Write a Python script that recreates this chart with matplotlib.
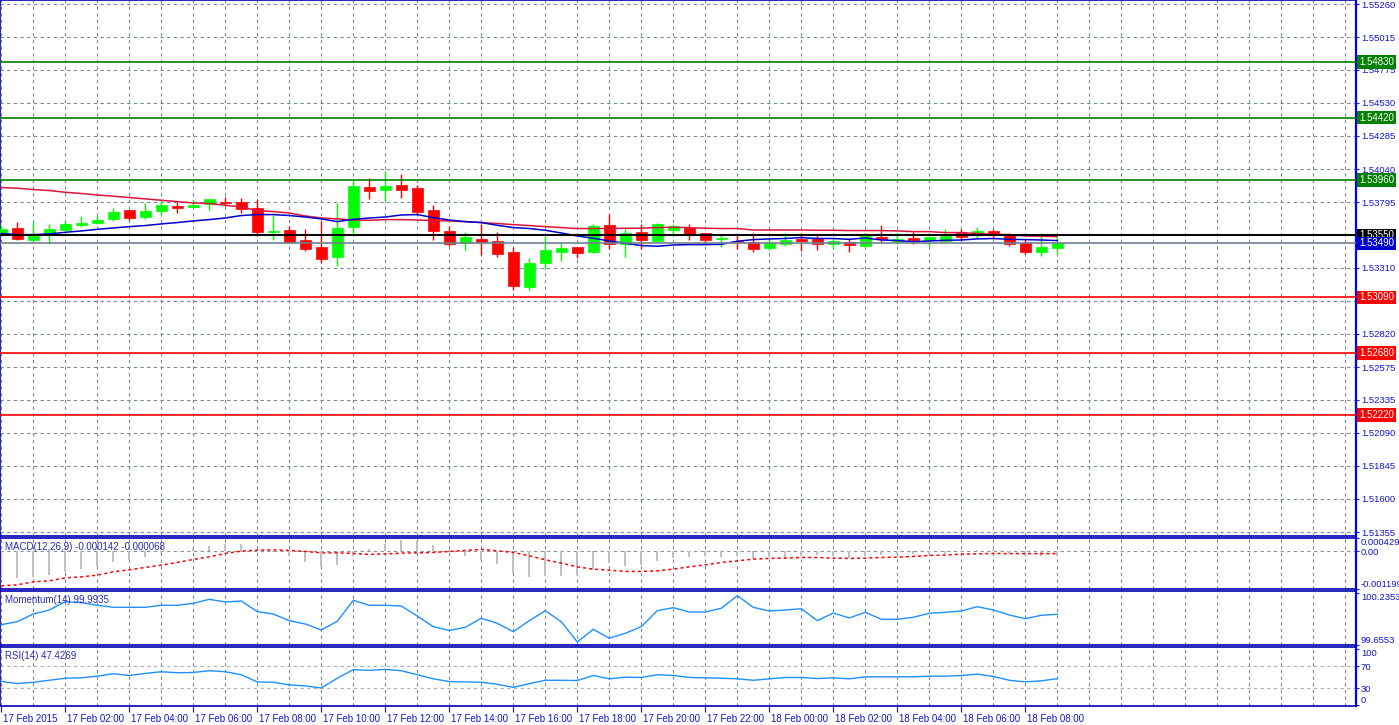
import numpy as np
import matplotlib.pyplot as plt
from matplotlib import transforms

plt.rcParams['font.family'] = ['Liberation Sans', 'DejaVu Sans']

# ---- GBPUSD-like M30 candles, 17 Feb 00:00 .. 18 Feb 09:00 ----
opens = [1.53557, 1.53602, 1.53513, 1.53552, 1.53587, 1.53624, 1.53639, 1.53668, 1.53735, 1.53685,
         1.53728, 1.53765, 1.53759, 1.53779, 1.53799, 1.53794, 1.53750, 1.53574, 1.53587, 1.53513,
         1.53461, 1.53389, 1.53611, 1.53905, 1.53885, 1.53920, 1.53898, 1.53735, 1.53580, 1.53493,
         1.53520, 1.53506, 1.53424, 1.53167, 1.53345, 1.53426, 1.53461, 1.53426, 1.53624, 1.53486,
         1.53572, 1.53511, 1.53589, 1.53607, 1.53565, 1.53523, 1.53511, 1.53500, 1.53454, 1.53486,
         1.53520, 1.53526, 1.53486, 1.53498, 1.53471, 1.53535, 1.53511, 1.53528, 1.53515, 1.53511,
         1.53570, 1.53560, 1.53580, 1.53550, 1.53491, 1.53426, 1.53456]
highs = [1.53624, 1.53646, 1.53646, 1.53631, 1.53656, 1.53691, 1.53691, 1.53750, 1.53739, 1.53787,
         1.53802, 1.53796, 1.53811, 1.53820, 1.53831, 1.53824, 1.53819, 1.53700, 1.53617, 1.53594,
         1.53656, 1.53787, 1.53957, 1.53972, 1.54024, 1.54001, 1.53920, 1.53772, 1.53617, 1.53572,
         1.53631, 1.53572, 1.53463, 1.53380, 1.53545, 1.53491, 1.53465, 1.53631, 1.53705, 1.53594,
         1.53631, 1.53644, 1.53631, 1.53631, 1.53569, 1.53557, 1.53557, 1.53565, 1.53528, 1.53565,
         1.53570, 1.53557, 1.53530, 1.53530, 1.53570, 1.53624, 1.53565, 1.53577, 1.53545, 1.53594,
         1.53594, 1.53614, 1.53600, 1.53570, 1.53520, 1.53565, 1.53540]
lows = [1.53543, 1.53513, 1.53509, 1.53486, 1.53583, 1.53611, 1.53635, 1.53656, 1.53663, 1.53668,
        1.53698, 1.53713, 1.53750, 1.53737, 1.53765, 1.53715, 1.53543, 1.53515, 1.53491, 1.53434,
        1.53345, 1.53321, 1.53552, 1.53819, 1.53804, 1.53826, 1.53700, 1.53515, 1.53471, 1.53441,
        1.53407, 1.53389, 1.53145, 1.53145, 1.53298, 1.53360, 1.53380, 1.53417, 1.53452, 1.53389,
        1.53449, 1.53500, 1.53545, 1.53515, 1.53483, 1.53463, 1.53452, 1.53426, 1.53439, 1.53469,
        1.53434, 1.53441, 1.53449, 1.53426, 1.53463, 1.53500, 1.53483, 1.53486, 1.53471, 1.53500,
        1.53515, 1.53530, 1.53526, 1.53471, 1.53409, 1.53397, 1.53412]
closes = [1.53594, 1.53520, 1.53545, 1.53594, 1.53631, 1.53641, 1.53661, 1.53720, 1.53678, 1.53728,
          1.53772, 1.53750, 1.53774, 1.53816, 1.53792, 1.53745, 1.53574, 1.53582, 1.53500, 1.53449,
          1.53375, 1.53602, 1.53913, 1.53878, 1.53913, 1.53885, 1.53722, 1.53582, 1.53486, 1.53535,
          1.53500, 1.53412, 1.53175, 1.53343, 1.53439, 1.53454, 1.53419, 1.53617, 1.53486, 1.53565,
          1.53515, 1.53631, 1.53617, 1.53557, 1.53515, 1.53528, 1.53500, 1.53446, 1.53491, 1.53515,
          1.53506, 1.53486, 1.53506, 1.53476, 1.53545, 1.53520, 1.53520, 1.53513, 1.53535, 1.53545,
          1.53535, 1.53580, 1.53550, 1.53486, 1.53426, 1.53463, 1.53490]

ma_slow = [1.53903, 1.53898, 1.53888, 1.53881, 1.53868, 1.53859, 1.53848, 1.53839, 1.53829, 1.53819,
           1.53809, 1.53799, 1.53789, 1.53785, 1.53772, 1.53759, 1.53733, 1.53725, 1.53715, 1.53693,
           1.53678, 1.53671, 1.53663, 1.53661, 1.53666, 1.53666, 1.53663, 1.53659, 1.53656, 1.53651,
           1.53644, 1.53637, 1.53629, 1.53622, 1.53614, 1.53607, 1.53600, 1.53600, 1.53600, 1.53602,
           1.53602, 1.53607, 1.53609, 1.53606, 1.53602, 1.53600, 1.53600, 1.53589, 1.53589, 1.53589,
           1.53589, 1.53587, 1.53587, 1.53585, 1.53585, 1.53585, 1.53582, 1.53577, 1.53577, 1.53570,
           1.53570, 1.53563, 1.53557, 1.53555, 1.53545, 1.53543, 1.53540]
ma_fast = [1.53563, 1.53555, 1.53555, 1.53560, 1.53572, 1.53582, 1.53594, 1.53604, 1.53614, 1.53622,
           1.53634, 1.53644, 1.53656, 1.53666, 1.53678, 1.53696, 1.53703, 1.53703, 1.53696, 1.53685,
           1.53671, 1.53651, 1.53668, 1.53678, 1.53685, 1.53700, 1.53703, 1.53681, 1.53663, 1.53651,
           1.53644, 1.53624, 1.53607, 1.53600, 1.53587, 1.53567, 1.53545, 1.53528, 1.53508, 1.53491,
           1.53474, 1.53469, 1.53478, 1.53481, 1.53481, 1.53483, 1.53506, 1.53518, 1.53523, 1.53526,
           1.53533, 1.53526, 1.53526, 1.53520, 1.53530, 1.53515, 1.53511, 1.53503, 1.53508, 1.53513,
           1.53515, 1.53523, 1.53526, 1.53520, 1.53518, 1.53515, 1.53511]

macd_main = [-0.000852, -0.000852, -0.000830, -0.000747, -0.000670, -0.000565, -0.000479, -0.000351,
             -0.000278, -0.000172, -0.000064, -0.000006, 0.000105, 0.000179, 0.000233, 0.000233,
             0.000019, -0.000005, -0.000140, -0.000332, -0.000492, -0.000428, -0.000140, 0.000073,
             0.000233, 0.000361, 0.000338, 0.000201, 0.000041, -0.000140, -0.000268, -0.000396,
             -0.000683, -0.000811, -0.000798, -0.000779, -0.000757, -0.000597, -0.000373, -0.000460,
             -0.000437, -0.000319, -0.000214, -0.000192, -0.000140, -0.000182, -0.000140, -0.000246,
             -0.000182, -0.000223, -0.000140, -0.000118, -0.000140, -0.000204, -0.000140, -0.000109,
             -0.000096, -0.000086, -0.000077, -0.000077, -0.000010, 0.000041, 0.000051, -0.000054,
             -0.000118, -0.000140, -0.000142]
macd_signal = [-0.001098, -0.001066, -0.000970, -0.000938, -0.000843, -0.000811, -0.000757, -0.000651,
               -0.000587, -0.000511, -0.000437, -0.000351, -0.000255, -0.000172, -0.000064, 0.000010,
               0.000041, 0.000051, 0.000032, 0.000000, -0.000045, -0.000045, -0.000064, -0.000096,
               -0.000077, -0.000054, -0.000045, -0.000032, 0.000000, 0.000032, 0.000064, 0.000019,
               -0.000032, -0.000140, -0.000268, -0.000373, -0.000492, -0.000565, -0.000597, -0.000638,
               -0.000638, -0.000619, -0.000565, -0.000492, -0.000428, -0.000351, -0.000300, -0.000246,
               -0.000223, -0.000214, -0.000192, -0.000192, -0.000214, -0.000223, -0.000214, -0.000192,
               -0.000182, -0.000160, -0.000128, -0.000118, -0.000086, -0.000077, -0.000064, -0.000068,
               -0.000068, -0.000068, -0.000068]

momentum = [99.8774, 99.9108, 99.9967, 100.0413, 100.1338, 100.1227, 100.0937, 100.0714, 100.0714,
            100.0714, 100.0937, 100.0937, 100.1160, 100.1606, 100.1305, 100.1416, 100.0223, 99.9967,
            99.9220, 99.8852, 99.8183, 99.9153, 100.1494, 100.0937, 100.0937, 100.0859, 99.9744,
            99.8551, 99.8127, 99.8484, 99.9487, 99.8930, 99.7993, 99.9220, 100.0335, 99.9108,
            99.6845, 99.8261, 99.7257, 99.7815, 99.8551, 100.0335, 100.0669, 100.0190, 100.0190,
            100.0602, 100.2007, 100.0714, 100.0301, 100.0413, 100.0558, 99.9220, 100.0078, 99.9521,
            100.0156, 99.9376, 99.9376, 99.9599, 100.0045, 100.0156, 100.0301, 100.0781, 100.0413,
            99.9855, 99.9443, 99.9822, 99.9935]

rsi = [42.7, 38.5, 40.9, 44.5, 48.2, 48.9, 51.8, 56.2, 53.1, 56.7, 59.8, 58.0, 58.5, 61.6, 59.8,
       54.4, 41.6, 40.9, 36.2, 34.4, 30.7, 48.2, 63.5, 62.2, 64.0, 61.6, 54.4, 47.1, 42.2, 41.6,
       40.9, 37.3, 31.8, 38.5, 44.5, 44.5, 44.0, 53.1, 47.1, 50.0, 49.5, 54.4, 53.1, 49.5, 48.9,
       48.2, 47.1, 44.5, 47.1, 49.5, 49.5, 47.6, 48.9, 47.1, 50.7, 50.7, 50.7, 50.7, 51.8, 51.8,
       53.1, 55.5, 51.3, 44.5, 41.6, 43.5, 47.4]

time_labels = ['17 Feb 2015', '17 Feb 02:00', '17 Feb 04:00', '17 Feb 06:00', '17 Feb 08:00',
               '17 Feb 10:00', '17 Feb 12:00', '17 Feb 14:00', '17 Feb 16:00', '17 Feb 18:00',
               '17 Feb 20:00', '17 Feb 22:00', '18 Feb 00:00', '18 Feb 02:00', '18 Feb 04:00',
               '18 Feb 06:00', '18 Feb 08:00']

price_ticks = [1.55260, 1.55015, 1.54775, 1.54530, 1.54285, 1.54040, 1.53795, 1.53550, 1.53310,
               1.53065, 1.52820, 1.52575, 1.52335, 1.52090, 1.51845, 1.51600, 1.51355]
resistance = [1.54830, 1.54420, 1.53960]
support = [1.53090, 1.52680, 1.52220]
pivot = 1.53550
bid = 1.53490

# ---- layout (pixel boxes) ----
W, H = 1399, 725
fig = plt.figure(figsize=(W / 100, H / 100), dpi=100)
fig.patch.set_facecolor('white')


def panel(x0, y0, x1, y1):
    return fig.add_axes([x0 / W, 1 - y1 / H, (x1 - x0) / W, (y1 - y0) / H])


ax = panel(0, 0, 1356, 536)
ax_macd = panel(0, 538, 1356, 589)
ax_mom = panel(0, 591, 1356, 645)
ax_rsi = panel(0, 647, 1356, 706)
axes = [ax, ax_macd, ax_mom, ax_rsi]

frame = '#0000b4'
axis_blue = '#0000ff'
label_col = '#1414d2'
grid_col = '#778899'
dash = (0, (3, 3))

idx = np.arange(len(opens))
xmin, xmax = -0.08, 84.67

for a in axes:
    a.set_xlim(xmin, xmax)
    a.set_facecolor('white')
    for s in a.spines.values():
        s.set_color(frame)
        s.set_linewidth(1.2)
    a.spines['right'].set_color(axis_blue)
    a.spines['right'].set_linewidth(1.6)
    a.yaxis.tick_right()
    a.tick_params(axis='y', labelsize=6.8, labelcolor=label_col, colors=label_col,
                  length=2.5, width=0.8, pad=1)
    a.tick_params(axis='x', bottom=False, labelbottom=False)
    for k in range(0, 85, 2):
        a.axvline(k, color=grid_col, lw=0.8, ls=dash, zorder=0)

# ---- main price panel ----
ax.set_ylim(1.51326, 1.55290)
ax.set_yticks(price_ticks)
ax.set_yticklabels(['%.5f' % p if p not in (1.53550, 1.53065) else '' for p in price_ticks])
for p in price_ticks:
    ax.axhline(p, color=grid_col, lw=0.8, ls=dash, zorder=0)

o = np.array(opens)
c = np.array(closes)
up = c >= o
cols = np.where(up, '#00ff00', '#ff0000')
ax.vlines(idx, lows, highs, colors=cols, lw=1.0, zorder=3)
ax.bar(idx, np.maximum(np.abs(c - o), 0.00002), bottom=np.minimum(o, c), width=0.69,
       color=cols, edgecolor=cols, lw=0.5, zorder=4)

ax.plot(idx, ma_slow, color='#dc143c', lw=1.1, zorder=5)
ax.plot(idx, ma_fast, color='#0000cd', lw=1.1, zorder=5)

for lvl in resistance:
    ax.axhline(lvl, color='#008000', lw=1.2, zorder=6)
for lvl in support:
    ax.axhline(lvl, color='#ff0000', lw=1.2, zorder=6)
ax.axhline(pivot, color='black', lw=1.4, zorder=6)
ax.axhline(bid, color='#708090', lw=1.2, zorder=6)

tr = transforms.blended_transform_factory(ax.transAxes, ax.transData)
boxes = [(v, '#008000') for v in resistance] + [(pivot, 'black'), (bid, '#0000cc')] + \
        [(v, '#ff0000') for v in support]
for v, fc in boxes:
    ax.text(1.0 + 3 / 1356, v, '%.5f' % v, transform=tr, ha='left', va='center', fontsize=7,
            color='white', zorder=10, clip_on=False,
            bbox=dict(boxstyle='square,pad=0.18', fc=fc, ec='none'))

# ---- MACD ----
ax_macd.set_ylim(-0.001199, 0.000429)
ax_macd.bar(idx, macd_main, width=0.15, color='#c0c0c0', zorder=2)
ax_macd.plot(idx, macd_signal, color='#ff0000', lw=1.1, ls=(0, (2, 2)), zorder=3)
ax_macd.axhline(0, color='#909090', lw=0.8, ls=dash, zorder=1)
ax_macd.set_yticks([0.000429, 0.0, -0.001199])
ax_macd.set_yticklabels(['0.000429', '0.00', '-0.001199'])
ax_macd.text(0.004, 0.93, 'MACD(12,26,9) -0.000142 -0.000068', transform=ax_macd.transAxes,
             ha='left', va='top', fontsize=7, color='#2a2ab4')

# ---- Momentum ----
ax_mom.set_ylim(99.6508, 100.2531)
ax_mom.plot(idx, momentum, color='#1e90ff', lw=1.0, zorder=3)
ax_mom.set_yticks([100.2353, 99.6553])
ax_mom.set_yticklabels(['100.2353', '99.6553'])
ax_mom.text(0.004, 0.93, 'Momentum(14) 99.9935', transform=ax_mom.transAxes,
            ha='left', va='top', fontsize=7, color='#2a2ab4')

# ---- RSI ----
ax_rsi.set_ylim(-1.5, 104)
ax_rsi.plot(idx, rsi, color='#1e90ff', lw=1.0, zorder=3)
for lvl in (70, 30):
    ax_rsi.axhline(lvl, color='#b0b0b0', lw=0.8, ls=dash, zorder=1)
ax_rsi.set_yticks([100, 70, 30, 0])
ax_rsi.set_yticklabels(['100', '70', '30', '0'])
ax_rsi.text(0.004, 0.93, 'RSI(14) 47.4269', transform=ax_rsi.transAxes,
            ha='left', va='top', fontsize=7, color='#2a2ab4')

# extreme scale labels sit inside their panels
for a in (ax_macd, ax_mom, ax_rsi):
    labs = a.get_yticklabels()
    labs[0].set_va('top')
    labs[-1].set_va('bottom')

# time axis
ax_rsi.set_xticks(np.arange(len(time_labels)) * 4)
ax_rsi.set_xticklabels(time_labels, ha='left')
ax_rsi.tick_params(axis='x', bottom=True, labelbottom=True, labelsize=7, labelcolor=label_col,
                   colors=label_col, length=4, width=0.8, pad=1.5)
shift = transforms.ScaledTranslation(2 / 100, 0, fig.dpi_scale_trans)
for lab in ax_rsi.get_xticklabels():
    lab.set_transform(lab.get_transform() + shift)

fig.savefig('out.png', dpi=100, facecolor='white')
